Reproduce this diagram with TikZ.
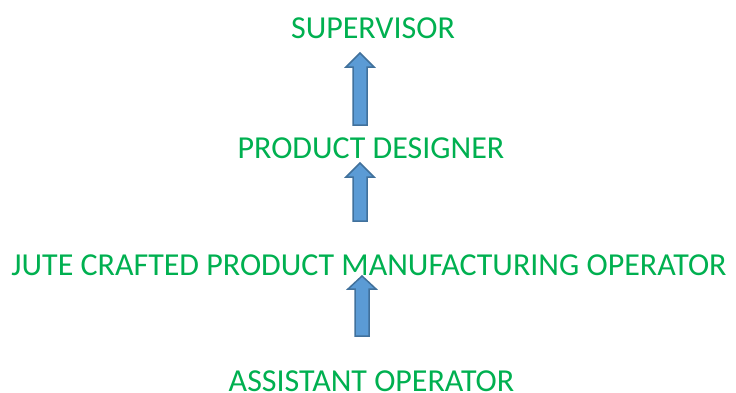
\documentclass[tikz,border=0pt]{standalone}
\usepackage{fontspec}
\setmainfont{Carlito}
\usepackage{tikz}

\definecolor{rolegreen}{HTML}{00B050}
\definecolor{arrowfill}{HTML}{5B9BD5}
\definecolor{arrowline}{HTML}{41719C}

\tikzset{
  role/.style={text=rolegreen, font=\fontsize{32}{36}\selectfont, anchor=base, inner sep=0pt},
  uparrow/.style={fill=arrowfill, draw=arrowline, line width=1.5pt, line join=miter}
}

\begin{document}
\begin{tikzpicture}[x=1pt, y=-1pt]
        \useasboundingbox (0, 0) rectangle (736, 392);

        \node[role] (super) at (373, 38) {SUPERVISOR};
        \node[role] (designer) at (371, 158) {PRODUCT DESIGNER};
        \node[role] (operator) at (369, 275) {JUTE CRAFTED PRODUCT MANUFACTURING OPERATOR};
        \node[role] (assistant) at (371.5, 391) {ASSISTANT OPERATOR};

        % block arrows: centre, tip, base of head, bottom
        \foreach \cx/\yt/\yh/\yb in {360/53/67/125, 360/163/177/221, 362/276/289/336}
            \draw[uparrow] (\cx, \yt) -- (\cx + 14, \yh) -- (\cx + 7, \yh) -- (\cx + 7, \yb)
                -- (\cx - 7, \yb) -- (\cx - 7, \yh) -- (\cx - 14, \yh) -- cycle;
    \end{tikzpicture}
\end{document}
